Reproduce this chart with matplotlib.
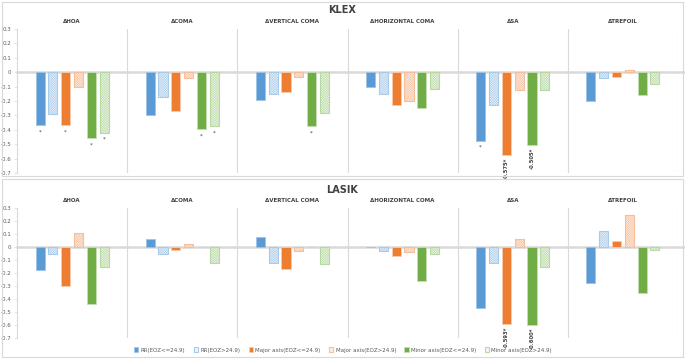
import numpy as np
import matplotlib
matplotlib.use('Agg')
import matplotlib.pyplot as plt
from matplotlib.patches import Rectangle

# groups and series
groups = ['ΔHOA', 'ΔCOMA', 'ΔVERTICAL COMA', 'ΔHORIZONTAL COMA', 'ΔSA', 'ΔTREFOIL']
series = ['RR(EOZ<=24.9)', 'RR(EOZ>24.9)', 'Major axis(EOZ<=24.9)',
          'Major axis(EOZ>24.9)', 'Minor axis(EOZ<=24.9)', 'Minor axis(EOZ>24.9)']

# values per group, order as in series
klex = [
    [-0.37, -0.29, -0.365, -0.10, -0.46, -0.42],
    [-0.295, -0.17, -0.27, -0.04, -0.395, -0.375],
    [-0.19, -0.15, -0.14, -0.03, -0.375, -0.28],
    [-0.10, -0.15, -0.225, -0.20, -0.25, -0.12],
    [-0.475, -0.225, -0.575, -0.125, -0.505, -0.125],
    [-0.20, -0.04, -0.03, 0.012, -0.16, -0.08],
]
lasik = [
    [-0.18, -0.05, -0.30, 0.11, -0.44, -0.155],
    [0.065, -0.055, -0.025, 0.025, 0.0, -0.125],
    [0.08, -0.12, -0.17, -0.03, 0.0, -0.13],
    [-0.003, -0.03, -0.07, -0.04, -0.26, -0.055],
    [-0.47, -0.12, -0.593, 0.06, -0.60, -0.155],
    [-0.28, 0.125, 0.045, 0.245, -0.35, -0.025],
]

# (group, series) marked with an asterisk / a value label
klex_stars = [(0, 0), (0, 2), (0, 4), (0, 5), (1, 4), (1, 5), (2, 4), (4, 0)]
klex_labels = {(4, 2): '-0.575*', (4, 4): '-0.505*'}
lasik_stars = []
lasik_labels = {(4, 2): '-0.593*', (4, 4): '-0.600*'}

solid = ['#5B9BD5', '#ED7D31', '#70AD47']
light = ['#9DC3E6', '#F8CBAD', '#C5E0B4']
tint = ['#EEF4FB', '#FDF1EA', '#F2F8EE']
hatch_edge = ['#A9CBEA', '#F6BE9A', '#B7D9A2']

yticks = np.round(np.arange(0.3, -0.71, -0.1), 1)
ytick_labels = ['0.3', '0.2', '0.1', '0', '-0.1', '-0.2', '-0.3', '-0.4', '-0.5', '-0.6', '-0.7']

plt.rcParams['hatch.linewidth'] = 0.3
fig = plt.figure(figsize=(6.85, 3.59), dpi=100)

# panel borders
for y0, h in [(1 - 176 / 359, 174 / 359), (1 - 357 / 359, 178 / 359)]:
    fig.patches.append(Rectangle((0.003, y0), 0.994, h, transform=fig.transFigure,
                                 fill=False, edgecolor='#d9d9d9', lw=0.8))

step = 0.1164
width = 0.082


def panel(rect, data, title, title_y, sub_y, stars, labels):
    ax = fig.add_axes(rect)
    for g, vals in enumerate(data):
        for k, v in enumerate(vals):
            x = g + 0.5 + (k - 2.5) * step
            c = k // 2
            if k % 2 == 0:
                ax.bar(x, v, width, color=solid[c], edgecolor=light[c], lw=0.6, zorder=3)
            else:
                ax.bar(x, v, width, color=tint[c], edgecolor=hatch_edge[c], hatch='x' * 14,
                       lw=0.8, zorder=3)
            if (g, k) in stars:
                ax.text(x, v - 0.03, '*', ha='center', va='top', fontsize=4, color='#404040')
            if (g, k) in labels:
                ax.text(x, v - 0.02, labels[(g, k)], ha='center', va='top', rotation=90,
                        fontsize=3.8, color='#404040', fontweight='bold')
        ax.text(g + 0.5, sub_y, groups[g], transform=ax.get_xaxis_transform(), ha='center',
                va='bottom', fontsize=4, fontweight='bold', color='#404040')
    for g in range(1, 7):
        ax.axvline(g, color='#d9d9d9', lw=0.8, zorder=1)
    ax.axhline(0, color='#d9d9d9', lw=1.8, zorder=2, xmax=1.01, clip_on=False)
    ax.set_xlim(0, 6)
    ax.set_ylim(-0.7, 0.3)
    ax.set_yticks(yticks)
    ax.set_yticklabels(ytick_labels)
    ax.set_xticks([])
    ax.tick_params(axis='y', labelsize=4, colors='#595959', length=2, width=0.5, pad=2,
                   color='#d9d9d9')
    for s in ['top', 'right', 'bottom']:
        ax.spines[s].set_visible(False)
    ax.spines['left'].set_color('#d9d9d9')
    ax.spines['left'].set_linewidth(0.8)
    fig.text(0.5, title_y, title, ha='center', va='center', fontsize=7, fontweight='bold',
             color='#404040')
    return ax


panel([17 / 685, 1 - 173 / 359, 661 / 685, 144 / 359], klex, 'KLEX', 1 - 10 / 359, 1.035,
      klex_stars, klex_labels)
panel([17 / 685, 1 - 338 / 359, 661 / 685, 130 / 359], lasik, 'LASIK', 1 - 190 / 359, 1.035,
      lasik_stars, lasik_labels)

handles = []
for k, name in enumerate(series):
    c = k // 2
    if k % 2 == 0:
        h = Rectangle((0, 0), 1, 1, facecolor=solid[c], edgecolor=light[c], lw=0.5)
    else:
        h = Rectangle((0, 0), 1, 1, facecolor=tint[c], edgecolor=hatch_edge[c], lw=0.8)
    handles.append(h)
fig.legend(handles, series, loc='center', bbox_to_anchor=(343 / 685, 1 - 350 / 359), ncol=6,
           fontsize=4, frameon=False, handlelength=0.8, handleheight=0.8, handletextpad=0.4,
           columnspacing=1.5, labelcolor='#595959')

fig.savefig('out.png', dpi=100, facecolor='white')
